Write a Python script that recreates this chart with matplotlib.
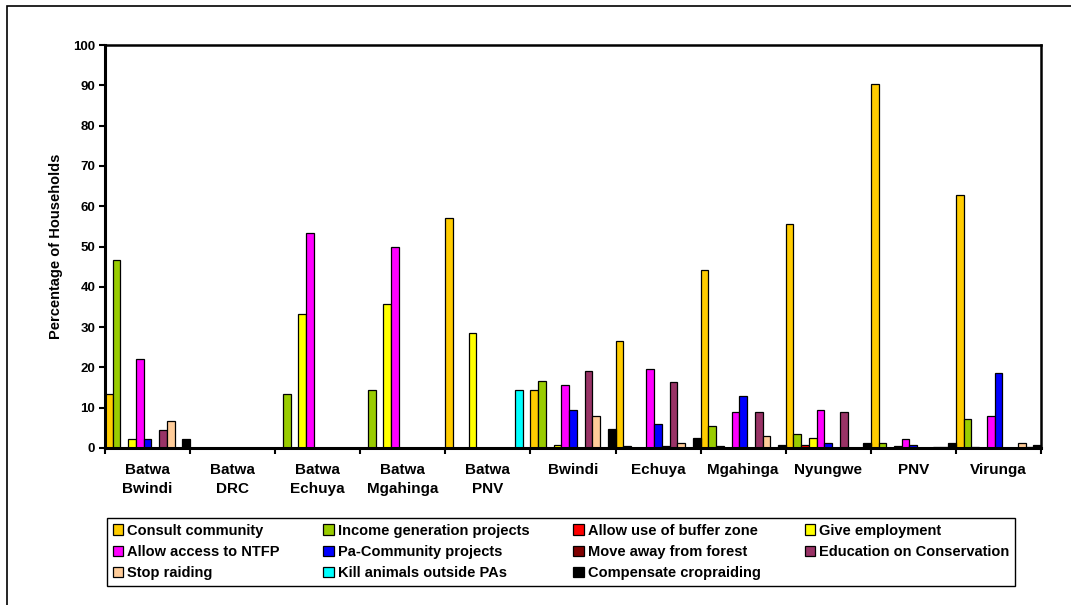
import matplotlib.pyplot as plt
from matplotlib.patches import Rectangle
import numpy as np

plt.rcParams['font.family'] = ['Liberation Sans', 'DejaVu Sans']
plt.rcParams['font.weight'] = 'bold'

# Categories on the x axis
sites = ['Batwa\nBwindi', 'Batwa\nDRC', 'Batwa\nEchuya', 'Batwa\nMgahinga', 'Batwa\nPNV',
         'Bwindi', 'Echuya', 'Mgahinga', 'Nyungwe', 'PNV', 'Virunga']

# One list per response (% of households)
consult = [13.3, 0, 0, 0, 57.1, 14.5, 26.6, 44.1, 55.6, 90.3, 62.9]
income = [46.7, 0, 13.3, 14.3, 0, 16.6, 0.6, 5.5, 3.5, 1.2, 7.2]
buffer_zone = [0, 0, 0, 0, 0, 0, 0, 0.6, 0.8, 0, 0.3]
employment = [2.2, 0, 33.3, 35.7, 28.6, 0.8, 0, 0, 2.6, 0.5, 0]
ntfp = [22.2, 0, 53.3, 50.0, 0, 15.7, 19.7, 8.9, 9.5, 2.3, 8.0]
pa_community = [2.2, 0, 0, 0, 0, 9.4, 6.0, 12.9, 1.2, 0.8, 18.5]
move_away = [0, 0, 0, 0, 0, 0, 0.6, 0, 0, 0, 0]
education = [4.4, 0, 0, 0, 0, 19.1, 16.3, 8.9, 9.0, 0, 0]
stop_raiding = [6.7, 0, 0, 0, 0, 8.0, 1.2, 3.1, 0, 0.3, 1.3]
kill_animals = [0, 0, 0, 0, 14.3, 0, 0, 0, 0, 0.3, 0.2]
compensate = [2.2, 0, 0, 0, 0, 4.7, 2.6, 0.7, 1.3, 1.3, 0.8]

series_names = ['Consult community', 'Income generation projects', 'Allow use of buffer zone',
                'Give employment', 'Allow access to NTFP', 'Pa-Community projects',
                'Move away from forest', 'Education on Conservation', 'Stop raiding',
                'Kill animals outside PAs', 'Compensate cropraiding']
series_values = [consult, income, buffer_zone, employment, ntfp, pa_community,
                 move_away, education, stop_raiding, kill_animals, compensate]
colors = ['#FFCC00', '#99CC00', '#FF0000', '#FFFF00', '#FF00FF', '#0000FF',
          '#800000', '#993366', '#FFCC99', '#00FFFF', '#000000']

fig = plt.figure(figsize=(10.71, 6.05), dpi=100)
ax = fig.add_axes([105 / 1071, 1 - 448 / 605, 936 / 1071, 403 / 605])

n = len(series_names)
width = 1.0 / n
groups = np.arange(len(sites))
handles = []
for j, (name, vals, col) in enumerate(zip(series_names, series_values, colors)):
    vals = np.array(vals)
    mask = vals > 0
    bars = ax.bar(groups[mask] + (j + 0.5) * width, vals[mask], width=width,
                  color=col, edgecolor='black', linewidth=0.9, label=name)
    handles.append(bars)

ax.set_xlim(0, len(sites))
ax.set_ylim(0, 100)
ax.set_yticks(np.arange(0, 101, 10))
ax.tick_params(axis='y', direction='out', length=4, width=1.5, labelsize=9.5, pad=3)

# boundary ticks between groups, labels at group centres
ax.set_xticks(np.arange(0, len(sites) + 1))
ax.set_xticklabels([])
ax.tick_params(axis='x', which='major', direction='out', length=4, width=1.5)
ax.set_xticks(groups + 0.5, minor=True)
ax.set_xticklabels(sites, minor=True, fontsize=11, fontweight='bold', linespacing=1.4)
ax.tick_params(axis='x', which='minor', length=0, pad=11)

for side in ['left', 'bottom']:
    ax.spines[side].set_linewidth(2.2)
for side in ['top', 'right']:
    ax.spines[side].set_linewidth(1.8)

ax.set_ylabel('Percentage of Households', fontsize=10.5, fontweight='bold', labelpad=7)

# legend filled row by row like the original
order = [0, 4, 8, 1, 5, 9, 2, 6, 10, 3, 7]
leg = fig.legend([handles[i] for i in order], [series_names[i] for i in order],
                 ncol=4, loc='center', bbox_to_anchor=(561 / 1071, 1 - 552 / 605),
                 fancybox=False, edgecolor='black', framealpha=1,
                 fontsize=10.5, handlelength=0.7, handleheight=0.7, handletextpad=0.3,
                 columnspacing=3.0, labelspacing=0.5, borderpad=0.4)
leg.get_frame().set_linewidth(1.0)
for t in leg.get_texts():
    t.set_fontweight('bold')

# outer chart frame
fig.add_artist(Rectangle((7 / 1071, -0.05), 1.2, 1 - 6 / 605 + 0.05, transform=fig.transFigure,
                         fill=False, edgecolor='black', linewidth=1.2))

fig.savefig('out.png', dpi=100)
